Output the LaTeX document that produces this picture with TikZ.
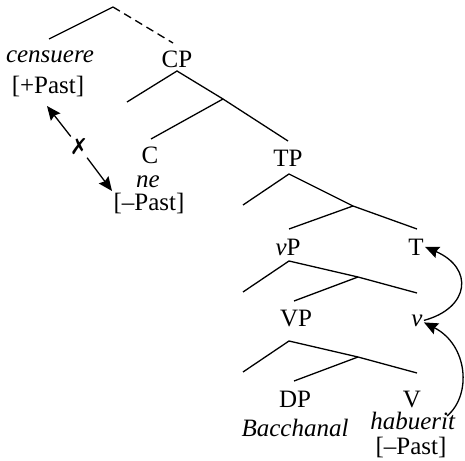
\documentclass[tikz,border=0pt]{standalone}
\usepackage{fontspec}
\setmainfont{Liberation Serif}
\newfontfamily\dejavu{DejaVu Sans}
\usepackage{tikz}
\usetikzlibrary{arrows.meta}

\begin{document}
\begin{tikzpicture}[x=0.5pt, y=-0.5pt, font=\fontsize{12.5}{14}\selectfont,
  lab/.style={anchor=base, inner sep=0.5pt},
  branch/.style={line width=0.65pt},
  move/.style={->, line width=0.65pt},
  >={Stealth[length=7pt, width=6pt, inset=1pt]}]
\useasboundingbox (0,0) rectangle (465,460);
% labels
\node[lab] (censuere) at (50,63) {\textit{censuere}};
\node[lab] (plus) at (48,93) {[+Past]};
\node[lab] (cp) at (177,68) {CP};
\node[lab] (c) at (150,163) {C};
\node[lab] (ne) at (148,187) {\textit{ne}};
\node[lab] (cminus) at (149,210) {[--Past]};
\node[lab] (tp) at (288,166) {TP};
\node[lab] (vp) at (288,255) {\textit{v}P};
\node[lab] (t) at (416,255) {T};
\node[lab] (VP) at (296,326) {VP};
\node[lab] (v) at (417,326) {\textit{v}};
\node[lab] (dp) at (295,407) {DP};
\node[lab] (V) at (412,407) {V};
\node[lab] (bacch) at (295,436) {\textit{Bacchanal}};
\node[lab] (hab) at (413,429) {\textit{habuerit}};
\node[lab] (vminus) at (411,454) {[--Past]};

% branch points
\coordinate (root) at (113,7);
\coordinate (root-l) at (49,39);
\coordinate (root-r) at (173,43);
\coordinate (cp-top) at (177,71);
\coordinate (cp-l) at (127,102);
\coordinate (cp-j) at (223,99);
\coordinate (cp-jl) at (151,139);
\coordinate (cp-jr) at (288,141);
\coordinate (tp-top) at (289,174);
\coordinate (tp-l) at (243,205);
\coordinate (tp-j) at (353,206);
\coordinate (tp-jl) at (289,229);
\coordinate (tp-jr) at (417,229);
\coordinate (vp-top) at (289,261);
\coordinate (vp-l) at (243,292);
\coordinate (vp-j) at (358,277);
\coordinate (vp-jl) at (294,301);
\coordinate (vp-jr) at (417,293);
\coordinate (VP-top) at (289,341);
\coordinate (VP-l) at (243,372);
\coordinate (VP-j) at (358,357);
\coordinate (VP-jl) at (294,381);
\coordinate (VP-jr) at (417,373);

% tree
\draw[branch] (root-l) -- (root);
\draw[branch, dashed, dash pattern=on 4pt off 2.5pt] (root) -- (root-r);
\draw[branch] (cp-l) -- (cp-top) -- (cp-j) -- (cp-jr);
\draw[branch] (cp-j) -- (cp-jl);
\draw[branch] (tp-l) -- (tp-top) -- (tp-j) -- (tp-jr);
\draw[branch] (tp-j) -- (tp-jl);
\draw[branch] (vp-l) -- (vp-top) -- (vp-j) -- (vp-jr);
\draw[branch] (vp-j) -- (vp-jl);
\draw[branch] (VP-l) -- (VP-top) -- (VP-j) -- (VP-jr);
\draw[branch] (VP-j) -- (VP-jl);

% blocked agreement
\node[circle, inner sep=0pt, minimum size=13pt] (cross) at (79,147) {\dejavu\fontsize{11}{11}\selectfont ✗};
\coordinate (plus-tip) at (47,106);
\coordinate (minus-tip) at (112,191);
\draw[move] (cross) -- (plus-tip);
\draw[move] (cross) -- (minus-tip);

% head movement V -> v -> T
\coordinate (hab-tail) at (447,416);
\draw[move] (hab-tail) .. controls (472,395) and (468,345) .. ([yshift=-1pt]v.east);
\draw[move] (v.east) .. controls (470,308) and (474,268) .. (t.east);
\end{tikzpicture}
\end{document}
